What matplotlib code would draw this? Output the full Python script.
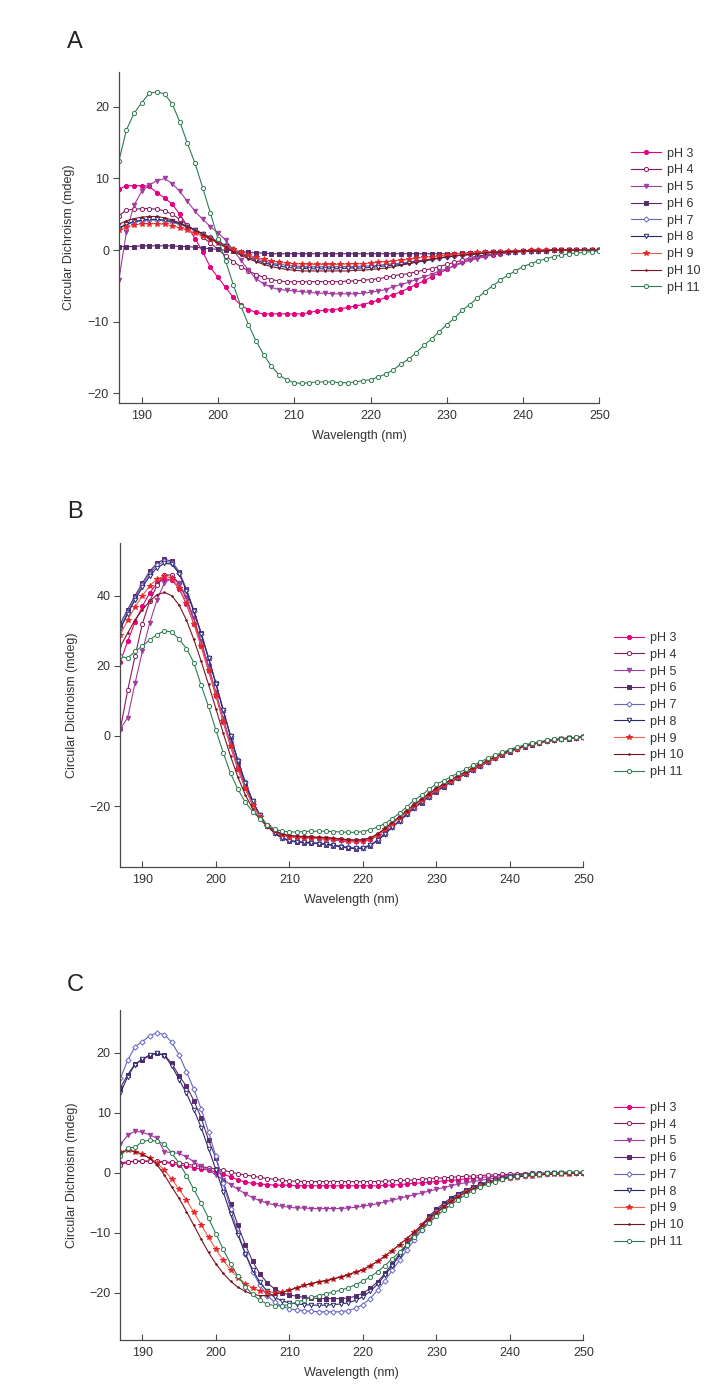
import numpy as np
import matplotlib
matplotlib.use('Agg')
import matplotlib.pyplot as plt

plt.rcParams['font.family'] = ['Liberation Sans', 'DejaVu Sans']

# Wavelength grid (nm), one reading per nm
wavelength = list(range(187, 251))
labels = ['pH 3', 'pH 4', 'pH 5', 'pH 6', 'pH 7', 'pH 8', 'pH 9', 'pH 10', 'pH 11']

# ---------------- Panel A ----------------
a_ph3 = [8.5, 9.0, 9.0,
         9.0, 8.9, 8.0, 7.3, 6.4, 5.0, 3.3, 1.6, -0.2, -2.4,
         -3.8, -5.2, -6.6, -7.7, -8.3, -8.7, -8.9, -8.9, -8.9, -8.9,
         -8.9, -8.9, -8.7, -8.5, -8.4, -8.3, -8.2, -8.0, -7.8, -7.6,
         -7.3, -7.0, -6.6, -6.2, -5.8, -5.3, -4.8, -4.3, -3.7, -3.2,
         -2.7, -2.1, -1.7, -1.3, -1.0, -0.8, -0.7, -0.5, -0.3, -0.2,
         -0.1, 0.0, 0.0, 0.0, 0.0, 0.0, 0.0, 0.0, 0.0, 0.0,
         0.0]
a_ph4 = [4.8, 5.6, 5.7,
         5.8, 5.8, 5.7, 5.5, 5.0, 4.3, 3.5, 2.7, 1.8, 1.0,
         0.1, -0.8, -1.6, -2.3, -2.9, -3.4, -3.8, -4.1, -4.3, -4.4,
         -4.4, -4.4, -4.4, -4.4, -4.4, -4.4, -4.4, -4.3, -4.3, -4.2,
         -4.1, -4.0, -3.8, -3.6, -3.4, -3.3, -3.0, -2.8, -2.6, -2.3,
         -2.0, -1.7, -1.4, -1.1, -0.8, -0.7, -0.5, -0.4, -0.3, -0.2,
         -0.2, -0.1, -0.1, 0.0, 0.0, 0.0, 0.0, 0.0, 0.0, 0.0,
         0.0]
a_ph5 = [-4.2, 2.6, 6.3,
         8.2, 9.1, 9.7, 10.0, 9.3, 8.2, 6.8, 5.4, 4.3, 3.3,
         2.4, 1.4, 0.0, -1.4, -2.8, -4.0, -4.7, -5.2, -5.5, -5.6,
         -5.7, -5.8, -5.9, -6.0, -6.0, -6.1, -6.1, -6.1, -6.1, -6.0,
         -5.9, -5.7, -5.5, -5.1, -4.8, -4.5, -4.1, -3.7, -3.4, -2.9,
         -2.6, -2.2, -1.8, -1.4, -1.2, -0.9, -0.7, -0.5, -0.4, -0.3,
         -0.2, -0.2, -0.1, -0.1, 0.0, 0.0, 0.0, 0.0, 0.0, 0.0,
         0.0]
a_ph6 = [0.5, 0.5, 0.5,
         0.6, 0.6, 0.6, 0.6, 0.6, 0.5, 0.5, 0.4, 0.3, 0.2,
         0.1, 0.0, -0.1, -0.2, -0.3, -0.4, -0.4, -0.5, -0.5, -0.5,
         -0.5, -0.5, -0.5, -0.5, -0.5, -0.5, -0.5, -0.5, -0.5, -0.5,
         -0.5, -0.5, -0.5, -0.5, -0.5, -0.5, -0.5, -0.5, -0.5, -0.5,
         -0.5, -0.5, -0.4, -0.4, -0.4, -0.3, -0.3, -0.2, -0.2, -0.2,
         -0.1, -0.1, -0.1, -0.1, 0.0, 0.0, 0.0, 0.0, 0.0, 0.0,
         0.0]
a_ph7 = [3.1, 3.6, 3.9,
         4.1, 4.2, 4.2, 4.1, 3.9, 3.6, 3.2, 2.8, 2.3, 1.8,
         1.2, 0.7, 0.2, -0.3, -0.8, -1.2, -1.5, -1.8, -2.0, -2.1,
         -2.2, -2.3, -2.3, -2.3, -2.3, -2.3, -2.3, -2.3, -2.3, -2.2,
         -2.2, -2.1, -2.0, -1.9, -1.8, -1.7, -1.5, -1.4, -1.2, -1.1,
         -0.9, -0.8, -0.7, -0.6, -0.5, -0.4, -0.3, -0.3, -0.2, -0.2,
         -0.1, -0.1, -0.1, -0.1, 0.0, 0.0, 0.0, 0.0, 0.0, 0.0,
         0.0]
a_ph8 = [3.0, 3.6, 4.0,
         4.2, 4.3, 4.3, 4.2, 4.0, 3.7, 3.3, 2.8, 2.3, 1.7,
         1.1, 0.6, 0.0, -0.5, -1.0, -1.4, -1.8, -2.0, -2.2, -2.4,
         -2.5, -2.5, -2.6, -2.6, -2.6, -2.6, -2.6, -2.5, -2.5, -2.5,
         -2.4, -2.3, -2.2, -2.1, -2.0, -1.8, -1.6, -1.5, -1.3, -1.1,
         -1.0, -0.8, -0.7, -0.6, -0.5, -0.4, -0.3, -0.3, -0.2, -0.2,
         -0.1, -0.1, -0.1, -0.1, 0.0, 0.0, 0.0, 0.0, 0.0, 0.0,
         0.0]
a_ph9 = [2.8, 3.2, 3.5,
         3.7, 3.7, 3.7, 3.6, 3.4, 3.1, 2.8, 2.4, 2.0, 1.5,
         1.0, 0.5, 0.1, -0.3, -0.7, -1.0, -1.3, -1.5, -1.7, -1.8,
         -1.9, -1.9, -2.0, -2.0, -2.0, -2.0, -2.0, -1.9, -1.9, -1.9,
         -1.8, -1.7, -1.6, -1.5, -1.4, -1.3, -1.1, -1.0, -0.9, -0.8,
         -0.7, -0.6, -0.5, -0.4, -0.3, -0.3, -0.2, -0.2, -0.1, -0.1,
         -0.1, 0.0, 0.0, 0.0, 0.0, 0.0, 0.0, 0.0, 0.0, 0.0,
         0.0]
a_ph10 = [3.6, 4.1, 4.4,
          4.6, 4.7, 4.7, 4.5, 4.2, 3.8, 3.3, 2.8, 2.2, 1.6,
          1.0, 0.4, -0.2, -0.7, -1.2, -1.6, -2.0, -2.3, -2.5, -2.7,
          -2.8, -2.9, -2.9, -2.9, -2.9, -2.9, -2.9, -2.9, -2.8, -2.8,
          -2.7, -2.6, -2.5, -2.3, -2.1, -1.9, -1.7, -1.5, -1.3, -1.1,
          -0.9, -0.8, -0.7, -0.6, -0.5, -0.4, -0.3, -0.3, -0.2, -0.2,
          -0.1, -0.1, -0.1, -0.1, 0.0, 0.0, 0.0, 0.0, 0.0, 0.0,
          0.0]
a_ph11 = [12.4, 16.8, 19.1,
          20.6, 21.9, 22.1, 21.8, 20.4, 17.9, 14.9, 12.1, 8.7, 5.2,
          1.6, -1.5, -4.8, -7.8, -10.4, -12.7, -14.6, -16.2, -17.4, -18.1,
          -18.5, -18.6, -18.5, -18.4, -18.4, -18.4, -18.5, -18.5, -18.4, -18.2,
          -18.1, -17.7, -17.3, -16.7, -15.9, -15.2, -14.3, -13.3, -12.4, -11.4,
          -10.4, -9.5, -8.4, -7.6, -6.7, -5.8, -5.0, -4.2, -3.5, -2.9,
          -2.3, -1.9, -1.5, -1.2, -0.9, -0.7, -0.5, -0.4, -0.3, -0.2,
          -0.1]

# ---------------- Panel B ----------------
b_ph3 = [21.2, 27.0, 32.5,
         37.0, 40.8, 43.5, 44.8, 44.5, 42.0, 37.5, 32.0, 25.5, 18.5,
         11.5, 4.0, -3.0, -9.5, -15.0, -19.5, -23.0, -25.5, -27.0, -28.0,
         -28.6, -28.8, -28.9, -29.0, -29.1, -29.2, -29.4, -29.6, -29.8, -29.9,
         -29.8, -29.3, -28.2, -26.6, -24.9, -23.2, -21.5, -19.8, -18.2, -16.7,
         -15.2, -13.9, -12.7, -11.5, -10.4, -9.3, -8.2, -7.2, -6.2, -5.2,
         -4.3, -3.6, -3.0, -2.4, -1.9, -1.5, -1.2, -0.9, -0.7, -0.5,
         -0.3]
b_ph4 = [2.0, 13.0, 22.7,
         32.0, 38.4, 43.0, 46.0, 45.8, 43.5, 39.0, 33.0, 26.5, 19.5,
         12.0, 4.5, -2.5, -9.0, -14.8, -19.5, -23.0, -25.5, -27.0, -28.0,
         -28.5, -28.7, -28.8, -28.9, -29.0, -29.1, -29.3, -29.5, -29.7, -29.8,
         -29.7, -29.2, -28.1, -26.5, -24.8, -23.1, -21.4, -19.7, -18.1, -16.6,
         -15.1, -13.8, -12.6, -11.4, -10.3, -9.2, -8.1, -7.1, -6.1, -5.1,
         -4.3, -3.6, -3.0, -2.4, -1.9, -1.5, -1.2, -0.9, -0.7, -0.5,
         -0.3]
b_ph5 = [2.0, 5.2, 15.0,
         24.1, 32.2, 38.9, 43.6, 45.0, 43.5, 39.5, 33.5, 27.0, 20.0,
         12.5, 5.0, -2.0, -8.5, -14.5, -19.3, -23.0, -25.7, -27.3, -28.3,
         -28.8, -29.0, -29.1, -29.2, -29.3, -29.5, -29.7, -30.0, -30.2, -30.3,
         -30.2, -29.6, -28.5, -26.9, -25.1, -23.4, -21.7, -20.0, -18.4, -16.9,
         -15.4, -14.0, -12.8, -11.6, -10.5, -9.4, -8.3, -7.3, -6.3, -5.3,
         -4.4, -3.6, -3.0, -2.4, -1.9, -1.5, -1.2, -0.9, -0.7, -0.5,
         -0.3]
b_ph6 = [32.0, 36.0, 40.0,
         43.6, 47.0, 49.3, 50.4, 49.8, 46.8, 41.8, 35.8, 29.3, 22.3,
         15.0, 7.3, -0.3, -7.3, -13.5, -18.8, -22.8, -25.8, -27.8, -29.2,
         -30.0, -30.3, -30.5, -30.6, -30.8, -31.0, -31.3, -31.7, -32.0, -32.2,
         -32.1, -31.3, -29.9, -28.0, -26.1, -24.3, -22.4, -20.6, -19.0, -17.4,
         -15.9, -14.5, -13.2, -12.0, -10.9, -9.7, -8.6, -7.5, -6.4, -5.4,
         -4.5, -3.7, -3.1, -2.5, -2.0, -1.6, -1.3, -1.0, -0.8, -0.6,
         -0.4]
b_ph7 = [31.0, 35.3, 39.3,
         43.0, 46.3, 48.7, 49.8, 49.4, 46.6, 41.6, 35.6, 29.2, 22.2,
         15.0, 7.4, 0.0, -7.0, -13.2, -18.5, -22.6, -25.6, -27.6, -29.0,
         -29.8, -30.1, -30.3, -30.4, -30.6, -30.8, -31.1, -31.5, -31.8, -32.0,
         -31.9, -31.2, -29.8, -27.9, -26.0, -24.2, -22.3, -20.5, -18.9, -17.3,
         -15.8, -14.4, -13.1, -11.9, -10.8, -9.6, -8.5, -7.4, -6.3, -5.3,
         -4.4, -3.6, -3.0, -2.4, -1.9, -1.5, -1.2, -0.9, -0.7, -0.5,
         -0.3]
b_ph8 = [30.5, 34.8, 38.8,
         42.4, 45.6, 48.0, 49.2, 49.0, 46.3, 41.4, 35.5, 29.1, 22.1,
         14.9, 7.3, -0.1, -7.1, -13.3, -18.6, -22.7, -25.7, -27.7, -29.1,
         -29.9, -30.2, -30.4, -30.5, -30.7, -30.9, -31.2, -31.6, -31.9, -32.1,
         -32.0, -31.2, -29.8, -27.9, -26.0, -24.2, -22.3, -20.5, -18.9, -17.3,
         -15.8, -14.4, -13.1, -11.9, -10.8, -9.6, -8.5, -7.4, -6.3, -5.3,
         -4.4, -3.6, -3.0, -2.4, -1.9, -1.5, -1.2, -0.9, -0.7, -0.5,
         -0.3]
b_ph9 = [28.9, 33.0, 36.8,
         40.0, 42.8, 44.8, 45.6, 45.0, 42.3, 37.8, 32.0, 25.6, 18.8,
         11.6, 4.3, -2.8, -9.4, -15.0, -19.6, -23.1, -25.6, -27.2, -28.2,
         -28.7, -28.9, -29.0, -29.1, -29.2, -29.3, -29.5, -29.7, -29.9, -30.0,
         -29.9, -29.4, -28.3, -26.7, -25.0, -23.3, -21.6, -19.9, -18.3, -16.8,
         -15.3, -14.0, -12.8, -11.6, -10.5, -9.4, -8.3, -7.3, -6.3, -5.3,
         -4.4, -3.6, -3.0, -2.4, -1.9, -1.5, -1.2, -0.9, -0.7, -0.5,
         -0.3]
b_ph10 = [25.5, 29.3, 33.1,
          36.0, 38.4, 40.3, 40.9, 40.0, 37.3, 33.0, 27.5, 21.3, 14.7,
          7.8, 0.8, -5.8, -11.8, -16.8, -20.8, -23.8, -25.9, -27.2, -28.0,
          -28.4, -28.6, -28.7, -28.8, -28.9, -29.0, -29.2, -29.4, -29.6, -29.7,
          -29.6, -29.1, -28.0, -26.4, -24.7, -23.0, -21.3, -19.6, -18.0, -16.5,
          -15.0, -13.7, -12.5, -11.3, -10.2, -9.1, -8.0, -7.0, -6.0, -5.0,
          -4.2, -3.5, -2.9, -2.3, -1.8, -1.4, -1.1, -0.8, -0.6, -0.4,
          -0.2]
b_ph11 = [22.7, 22.2, 24.1,
          25.6, 27.4, 28.9, 30.0, 29.6, 27.6, 24.9, 20.9, 14.4, 8.4,
          1.7, -4.8, -10.7, -15.2, -18.9, -21.6, -23.6, -25.3, -26.6, -27.2,
          -27.4, -27.4, -27.3, -27.2, -27.2, -27.2, -27.3, -27.4, -27.5, -27.5,
          -27.3, -26.8, -26.0, -25.0, -23.6, -22.0, -20.2, -18.3, -16.9, -15.2,
          -13.7, -12.8, -11.6, -10.6, -9.5, -8.4, -7.4, -6.4, -5.5, -4.7,
          -3.9, -3.2, -2.6, -2.1, -1.7, -1.3, -1.0, -0.8, -0.6, -0.4,
          -0.2]

# ---------------- Panel C ----------------
c_ph3 = [1.6, 1.8, 1.9,
         1.9, 1.9, 1.8, 1.7, 1.5, 1.3, 1.1, 0.8, 0.6, 0.4,
         0.1, -0.3, -0.7, -1.2, -1.6, -1.8, -1.9, -2.0, -2.1, -2.1,
         -2.1, -2.2, -2.2, -2.2, -2.2, -2.2, -2.2, -2.2, -2.2, -2.2,
         -2.2, -2.2, -2.2, -2.1, -2.1, -2.0, -1.9, -1.8, -1.7, -1.6,
         -1.5, -1.4, -1.3, -1.2, -1.0, -0.9, -0.8, -0.7, -0.6, -0.5,
         -0.4, -0.4, -0.3, -0.3, -0.2, -0.2, -0.1, -0.1, -0.1, 0.0,
         0.0]
c_ph4 = [1.3, 1.7, 1.9,
         1.9, 1.9, 1.9, 1.8, 1.7, 1.6, 1.4, 1.2, 1.0, 0.8,
         0.6, 0.4, 0.1, -0.2, -0.4, -0.6, -0.8, -1.0, -1.1, -1.3,
         -1.4, -1.4, -1.5, -1.5, -1.5, -1.5, -1.5, -1.5, -1.5, -1.5,
         -1.5, -1.5, -1.5, -1.4, -1.4, -1.3, -1.3, -1.2, -1.1, -1.0,
         -0.9, -0.9, -0.8, -0.7, -0.6, -0.6, -0.5, -0.4, -0.4, -0.3,
         -0.3, -0.2, -0.2, -0.1, -0.1, -0.1, 0.0, 0.0, 0.0, 0.0,
         0.0]
c_ph5 = [4.7, 6.2, 6.9,
         6.7, 6.3, 5.7, 3.5, 3.3, 3.2, 2.6, 1.8, 1.1, 0.4,
         -0.4, -1.2, -2.0, -2.8, -3.5, -4.2, -4.7, -5.1, -5.4, -5.6,
         -5.8, -5.9, -5.9, -6.0, -6.0, -6.0, -6.0, -6.0, -5.9, -5.8,
         -5.6, -5.4, -5.2, -4.9, -4.6, -4.3, -4.0, -3.7, -3.4, -3.1,
         -2.8, -2.5, -2.2, -1.9, -1.7, -1.5, -1.3, -1.1, -0.9, -0.8,
         -0.6, -0.5, -0.4, -0.3, -0.3, -0.2, -0.1, -0.1, -0.1, 0.0,
         0.0]
c_ph6 = [14.1, 16.3, 18.1,
         18.8, 19.5, 19.9, 19.6, 18.2, 16.1, 14.4, 12.0, 9.1, 5.4,
         2.4, -1.5, -5.2, -8.8, -12.0, -14.8, -16.9, -18.4, -19.4, -20.0,
         -20.4, -20.6, -20.8, -20.9, -21.0, -21.0, -21.0, -21.0, -20.9, -20.6,
         -20.1, -19.3, -18.2, -16.8, -15.2, -13.5, -11.8, -10.2, -8.7, -7.3,
         -6.1, -5.1, -4.2, -3.5, -2.9, -2.4, -1.9, -1.5, -1.2, -0.9,
         -0.7, -0.5, -0.4, -0.3, -0.2, -0.1, -0.1, 0.0, 0.0, 0.0,
         0.0]
c_ph7 = [15.7, 18.7, 21.0,
         21.8, 22.8, 23.3, 23.0, 21.7, 19.6, 16.8, 13.9, 10.6, 6.8,
         2.7, -1.8, -6.0, -10.0, -13.5, -16.5, -18.8, -20.5, -21.6, -22.3,
         -22.7, -22.9, -23.0, -23.1, -23.2, -23.2, -23.2, -23.2, -23.0, -22.6,
         -22.0, -21.0, -19.6, -18.0, -16.3, -14.6, -12.9, -11.2, -9.6, -8.2,
         -6.9, -5.8, -4.8, -4.0, -3.3, -2.7, -2.2, -1.8, -1.4, -1.1,
         -0.9, -0.7, -0.5, -0.4, -0.3, -0.2, -0.1, -0.1, 0.0, 0.0,
         0.0]
c_ph8 = [13.2, 16.0, 18.0,
         18.9, 19.6, 19.9, 19.5, 17.8, 15.5, 13.2, 10.5, 7.5, 4.0,
         0.5, -3.2, -6.9, -10.4, -13.5, -16.2, -18.3, -19.8, -20.8, -21.4,
         -21.7, -21.9, -22.0, -22.1, -22.1, -22.1, -22.0, -21.9, -21.7, -21.3,
         -20.7, -19.8, -18.6, -17.1, -15.5, -13.8, -12.1, -10.5, -9.0, -7.6,
         -6.4, -5.4, -4.5, -3.7, -3.0, -2.5, -2.0, -1.6, -1.3, -1.0,
         -0.8, -0.6, -0.4, -0.3, -0.2, -0.1, -0.1, 0.0, 0.0, 0.0,
         0.0]
c_ph9 = [3.5, 3.8, 3.5,
         3.1, 2.4, 1.6, 0.4, -1.1, -2.8, -4.6, -6.6, -8.7, -10.8,
         -12.8, -14.6, -16.2, -17.5, -18.5, -19.2, -19.7, -19.9, -20.0, -19.9,
         -19.6, -19.2, -18.8, -18.5, -18.2, -18.0, -17.7, -17.4, -17.0, -16.6,
         -16.2, -15.5, -14.8, -13.9, -13.0, -12.0, -11.0, -9.9, -8.8, -7.7,
         -6.7, -5.7, -4.8, -4.0, -3.3, -2.7, -2.2, -1.8, -1.4, -1.1,
         -0.9, -0.7, -0.6, -0.5, -0.4, -0.3, -0.3, -0.2, -0.2, -0.1,
         -0.1]
c_ph10 = [3.3, 3.7, 3.5,
          3.0, 2.4, 1.3, -0.4, -2.4, -4.3, -6.5, -8.8, -11.1, -13.3,
          -15.2, -16.8, -18.1, -19.1, -19.8, -20.3, -20.5, -20.5, -20.3, -20.0,
          -19.6, -19.2, -18.8, -18.5, -18.2, -18.0, -17.7, -17.4, -17.0, -16.6,
          -16.2, -15.5, -14.8, -13.9, -13.0, -12.0, -11.0, -9.9, -8.8, -7.7,
          -6.7, -5.7, -4.8, -4.0, -3.3, -2.7, -2.2, -1.8, -1.4, -1.1,
          -0.9, -0.7, -0.6, -0.5, -0.4, -0.3, -0.3, -0.2, -0.2, -0.1,
          -0.1]
c_ph11 = [2.7, 4.1, 4.2,
          5.2, 5.4, 5.2, 4.8, 3.2, 1.6, -0.5, -2.8, -5.1, -7.6,
          -10.2, -12.8, -15.2, -17.3, -19.0, -20.3, -21.3, -21.9, -22.2, -22.2,
          -22.0, -21.6, -21.2, -20.8, -20.5, -20.2, -19.9, -19.6, -19.2, -18.7,
          -18.1, -17.4, -16.5, -15.5, -14.4, -13.2, -12.0, -10.8, -9.6, -8.4,
          -7.3, -6.3, -5.4, -4.5, -3.7, -3.0, -2.4, -1.9, -1.5, -1.1,
          -0.8, -0.6, -0.4, -0.3, -0.2, -0.1, 0.0, 0.0, 0.1, 0.1,
          0.1]

panels = [
    ('A', [a_ph3, a_ph4, a_ph5, a_ph6, a_ph7, a_ph8, a_ph9, a_ph10, a_ph11]),
    ('B', [b_ph3, b_ph4, b_ph5, b_ph6, b_ph7, b_ph8, b_ph9, b_ph10, b_ph11]),
    ('C', [c_ph3, c_ph4, c_ph5, c_ph6, c_ph7, c_ph8, c_ph9, c_ph10, c_ph11]),
]

# style per pH: (line colour, marker, marker face, marker size)
styles = [
    ('#e5007d', 'o', '#e5007d', 3.0),
    ('#8a1a5e', 'o', 'white', 3.0),
    ('#a03c9e', 'v', '#a03c9e', 3.2),
    ('#5a2a6a', 's', '#5a2a6a', 2.7),
    ('#6464c8', 'D', 'white', 2.7),
    ('#28286e', 'v', 'white', 3.2),
    ('#f0604a', '*', '#e8262a', 4.0),
    ('#7a1420', '.', '#7a1420', 2.2),
    ('#2e7d50', 'o', 'white', 3.0),
]

# layout: axes rectangle (fig fractions), y-limits, y-ticks, letter y, legend centre (axes y)
layout = {
    'A': ([0.1669, 0.7092, 0.6748, 0.2390], (-21.3, 24.9), [-20, -10, 0, 10, 20], 0.970, 0.55),
    'B': ([0.1690, 0.3740, 0.6503, 0.2339], (-37.4, 55.0), [-20, 0, 20, 40], 0.6305, 0.50),
    'C': ([0.1690, 0.0325, 0.6503, 0.2383], (-27.9, 27.1), [-20, -10, 0, 10, 20], 0.289, 0.50),
}

axis_col = '#4a4a4a'
text_col = '#333333'

fig = plt.figure(figsize=(7.12, 13.85), dpi=100)

for letter, series in panels:
    rect, ylim, yticks, ly, legy = layout[letter]
    ax = fig.add_axes(rect)
    for vals, lab, (col, mk, face, ms) in zip(series, labels, styles):
        ax.plot(wavelength, vals, color=col, lw=0.8, marker=mk, ms=ms,
                mfc=face, mec=col if face == 'white' else face, mew=0.7,
                label=lab)

    ax.set_xlim(187, 250)
    ax.set_ylim(*ylim)
    ax.set_xticks([190, 200, 210, 220, 230, 240, 250])
    ax.set_yticks(yticks)

    ax.spines['right'].set_visible(False)
    ax.spines['top'].set_visible(False)
    for s in ['left', 'bottom']:
        ax.spines[s].set_color(axis_col)
        ax.spines[s].set_linewidth(0.9)
    ax.tick_params(axis='y', direction='out', length=4, width=0.8,
                   colors=axis_col, labelcolor=text_col, labelsize=9, pad=3)
    ax.tick_params(axis='x', direction='in', length=4, width=0.8,
                   colors=axis_col, labelcolor=text_col, labelsize=9, pad=5)

    ax.set_xlabel('Wavelength (nm)', fontsize=9, color=text_col, labelpad=6)
    ax.set_ylabel('Circular Dichroism (mdeg)', fontsize=9, color=text_col)
    ax.yaxis.set_label_coords(-0.092, 0.5)

    leg = ax.legend(loc='center left', bbox_to_anchor=(1.052, legy), frameon=False,
                    fontsize=9, handlelength=2.4, handletextpad=0.5,
                    labelspacing=0.38, borderpad=0)
    for t in leg.get_texts():
        t.set_color(text_col)

    fig.text(0.105, ly, letter, fontsize=17, color='#222222', ha='center', va='center')

plt.savefig('out.png', dpi=100)
